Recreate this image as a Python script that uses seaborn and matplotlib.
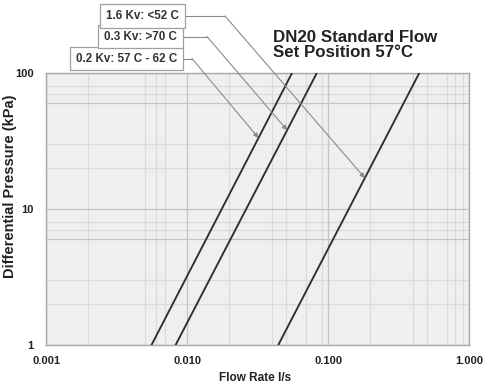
import numpy as np
import pandas as pd
import matplotlib
matplotlib.use("Agg")
import matplotlib.pyplot as plt
import seaborn as sns
from matplotlib.lines import Line2D
from matplotlib.ticker import FixedLocator, NullFormatter

# ---- data ----
series = ["0.2 Kv", "0.3 Kv", "1.6 Kv"]
flow_at_1kpa = [0.0056, 0.0083, 0.0444]      # l/s at 1 kPa
flow_at_100kpa = [0.0556, 0.0833, 0.444]     # l/s at 100 kPa
dp_ends = [1, 100]
box_labels = ["0.2 Kv: 57 C - 62 C", "0.3 Kv: >70 C", "1.6 Kv: <52 C"]
arrow_dp = [33.3, 38.0, 16.9]                # pressure where each arrow meets its line
x_ticks = [0.001, 0.01, 0.1, 1.0]
x_ticklabels = ["0.001", "0.010", "0.100", "1.000"]
y_ticks = [1, 10, 100]
y_ticklabels = ["1", "10", "100"]
x_grid_minor = [0.002, 0.005, 0.006, 0.007, 0.02, 0.04, 0.05, 0.07, 0.09,
                0.2, 0.4, 0.5, 0.7, 0.8, 0.9]
y_grid_minor = [2, 3, 7, 8, 20, 30, 70, 80]
y_grid_dark = [6, 60]
title_lines = ["DN20 Standard Flow", "Set Position 57°C"]

rows = []
for s, f1, f100 in zip(series, flow_at_1kpa, flow_at_100kpa):
    rows.append({"series": s, "flow": f1, "dp": dp_ends[0]})
    rows.append({"series": s, "flow": f100, "dp": dp_ends[1]})
df = pd.DataFrame(rows)

sns.set_style("white")
plt.rcParams["font.family"] = ["Liberation Sans", "DejaVu Sans"]

W, H = 486, 384
fig = plt.figure(figsize=(W / 100, H / 100), dpi=100)
L, R, T, B = 46, 469, 73, 345
ax = fig.add_axes([L / W, 1 - B / H, (R - L) / W, (B - T) / H])
ax.set_facecolor("#efefef")

ax.set_xscale("log")
ax.set_yscale("log")

# grid lines drawn first
for v in x_grid_minor:
    ax.axvline(v, color="#dadada", lw=0.8, zorder=0.5)
for v in y_grid_minor:
    ax.axhline(v, color="#dadada", lw=0.8, zorder=0.5)
for v in y_grid_dark:
    ax.axhline(v, color="#c4c4c4", lw=0.9, zorder=0.6)

sns.lineplot(data=df, x="flow", y="dp", hue="series",
             palette=["#2e2e2e"] * 3, legend=False, lw=1.35, ax=ax,
             estimator=None, sort=False, zorder=3)

ax.set_xlim(0.001, 1.0)
ax.set_ylim(1, 100)

ax.xaxis.set_major_locator(FixedLocator(x_ticks))
ax.set_xticklabels(x_ticklabels)
ax.yaxis.set_major_locator(FixedLocator(y_ticks))
ax.set_yticklabels(y_ticklabels)
ax.xaxis.set_minor_locator(FixedLocator([]))
ax.yaxis.set_minor_locator(FixedLocator([]))
ax.xaxis.set_minor_formatter(NullFormatter())
ax.yaxis.set_minor_formatter(NullFormatter())

ax.grid(which="major", color="#c4c4c4", lw=0.9, zorder=0.6)
ax.set_axisbelow(True)
for sp in ax.spines.values():
    sp.set_color("#a8a8a8")
    sp.set_linewidth(1.0)

ax.tick_params(which="major", length=3, color="#a8a8a8", width=0.8)
ax.tick_params(axis="x", pad=5, labelsize=8)
ax.tick_params(axis="y", pad=6, labelsize=8)
for lab in ax.get_xticklabels() + ax.get_yticklabels():
    lab.set_fontweight("bold")
    lab.set_color("#222222")

ax.set_xlabel("Flow Rate l/s", fontsize=8.5, fontweight="bold", color="#222222")
ax.xaxis.set_label_coords((255 - L) / (R - L), -(372 - B) / (B - T), transform=ax.transAxes)
ax.set_ylabel("Differential Pressure (kPa)", fontsize=10.5, fontweight="bold", color="#222222")
ax.yaxis.set_label_coords(-(L - 17) / (R - L), (B - 186) / (B - T))

for txt, base in zip(title_lines, [41.5, 57]):
    fig.text(273 / W, 1 - base / H, txt, ha="left", va="baseline",
             fontsize=12.2, fontweight="bold", color="#222222")

# annotation boxes: right edge, center y, elbow x (figure pixels from top-left)
box_right = [183, 183, 185]
box_y = [58.5, 36.5, 16]
elbow_x = [192, 207, 225]
for lab, s, dpv, br, by, ex in zip(box_labels, series, arrow_dp, box_right, box_y, elbow_x):
    i = series.index(s)
    # position along the straight log-log line between the two data points
    t = (np.log10(dpv) - np.log10(dp_ends[0])) / (np.log10(dp_ends[1]) - np.log10(dp_ends[0]))
    fx = 10 ** (np.log10(flow_at_1kpa[i]) + t * (np.log10(flow_at_100kpa[i]) - np.log10(flow_at_1kpa[i])))
    fig.text((br - 6) / W, 1 - by / H, lab, ha="right", va="center", fontsize=8.4,
             fontweight="bold", color="#333333",
             bbox=dict(boxstyle="square,pad=0.5", fc="white", ec="#a0a0a0", lw=0.9))
    fig.add_artist(Line2D([br / W, ex / W], [1 - by / H, 1 - by / H],
                          transform=fig.transFigure, color="#8a8a8a", lw=0.8))
    ax.annotate("", xy=(fx, dpv), xycoords="data",
                xytext=(ex / W, 1 - by / H), textcoords="figure fraction",
                arrowprops=dict(arrowstyle="-|>", color="#8a8a8a", lw=0.8,
                                shrinkA=0, shrinkB=0, mutation_scale=7),
                annotation_clip=False)

fig.savefig("out.png", dpi=100)
